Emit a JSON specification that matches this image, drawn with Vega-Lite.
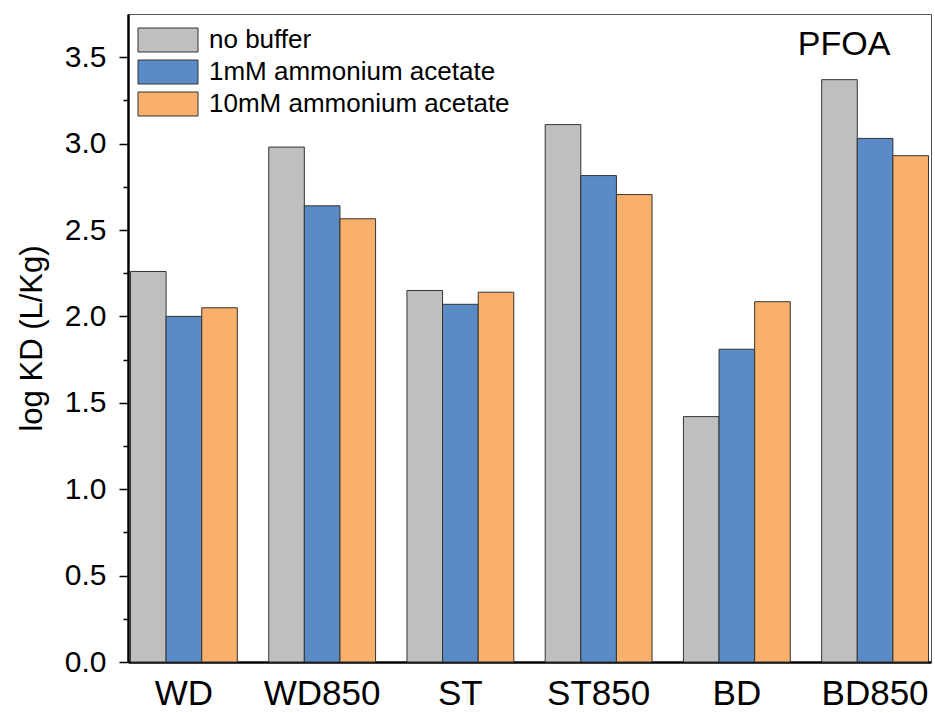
{
  "$schema": "https://vega.github.io/schema/vega-lite/v6.json",
  "width": 803,
  "height": 648,
  "autosize": {"type": "none"},
  "padding": {"left": 128, "top": 14, "right": 4, "bottom": 51},
  "background": "white",
  "config": {
    "font": "Liberation Sans",
    "view": {"stroke": "#555555", "strokeWidth": 1}
  },
  "layer": [
    {
      "data": {
        "values": [
          {"sample": "WD", "buffer": "no buffer", "logKD": 2.26},
          {"sample": "WD", "buffer": "1mM ammonium acetate", "logKD": 2.00},
          {"sample": "WD", "buffer": "10mM ammonium acetate", "logKD": 2.05},
          {"sample": "WD850", "buffer": "no buffer", "logKD": 2.98},
          {"sample": "WD850", "buffer": "1mM ammonium acetate", "logKD": 2.64},
          {"sample": "WD850", "buffer": "10mM ammonium acetate", "logKD": 2.565},
          {"sample": "ST", "buffer": "no buffer", "logKD": 2.15},
          {"sample": "ST", "buffer": "1mM ammonium acetate", "logKD": 2.07},
          {"sample": "ST", "buffer": "10mM ammonium acetate", "logKD": 2.14},
          {"sample": "ST850", "buffer": "no buffer", "logKD": 3.11},
          {"sample": "ST850", "buffer": "1mM ammonium acetate", "logKD": 2.815},
          {"sample": "ST850", "buffer": "10mM ammonium acetate", "logKD": 2.705},
          {"sample": "BD", "buffer": "no buffer", "logKD": 1.42},
          {"sample": "BD", "buffer": "1mM ammonium acetate", "logKD": 1.81},
          {"sample": "BD", "buffer": "10mM ammonium acetate", "logKD": 2.085},
          {"sample": "BD850", "buffer": "no buffer", "logKD": 3.37},
          {"sample": "BD850", "buffer": "1mM ammonium acetate", "logKD": 3.03},
          {"sample": "BD850", "buffer": "10mM ammonium acetate", "logKD": 2.93}
        ]
      },
      "mark": {"type": "bar", "stroke": "#333333", "strokeWidth": 1},
      "encoding": {
        "x": {
          "field": "sample",
          "type": "nominal",
          "sort": ["WD", "WD850", "ST", "ST850", "BD", "BD850"],
          "scale": {"paddingInner": 0.227, "paddingOuter": 0.018},
          "axis": {
            "title": null,
            "labelAngle": 0,
            "labelFontSize": 35,
            "labelColor": "black",
            "labelPadding": 14,
            "ticks": false,
            "domainColor": "black",
            "domainWidth": 2.5
          }
        },
        "xOffset": {
          "field": "buffer",
          "type": "nominal",
          "sort": ["no buffer", "1mM ammonium acetate", "10mM ammonium acetate"],
          "scale": {"paddingInner": 0, "paddingOuter": 0}
        },
        "y": {
          "field": "logKD",
          "type": "quantitative",
          "scale": {"domain": [0, 3.75], "nice": false, "zero": true},
          "axis": {
            "orient": "left",
            "title": "log KD (L/Kg)",
            "titleFontSize": 31,
            "titleFontWeight": "normal",
            "titleColor": "black",
            "titlePadding": 16,
            "values": [0, 0.5, 1, 1.5, 2, 2.5, 3, 3.5],
            "format": ".1f",
            "labelFontSize": 30,
            "labelColor": "black",
            "labelPadding": 13,
            "tickSize": 9,
            "tickWidth": 1.5,
            "tickColor": "black",
            "domainColor": "black",
            "domainWidth": 2.5,
            "grid": false
          }
        },
        "fill": {
          "field": "buffer",
          "type": "nominal",
          "sort": ["no buffer", "1mM ammonium acetate", "10mM ammonium acetate"],
          "scale": {"range": ["#bfbfbf", "#5a8bc6", "#f8b06a"]},
          "legend": {
            "title": null,
            "orient": "none",
            "legendX": 9,
            "legendY": 13,
            "symbolType": "M-1,-1H4V1H-1Z",
            "symbolSize": 576,
            "symbolStrokeColor": "#333333",
            "symbolStrokeWidth": 1,
            "symbolOpacity": 1,
            "labelFontSize": 26,
            "labelColor": "black",
            "labelOffset": 46,
            "rowPadding": 4,
            "labelLimit": 500
          }
        }
      }
    },
    {
      "data": {"values": [{"tick": "minor"}]},
      "mark": {"type": "rule", "opacity": 0},
      "encoding": {
        "y": {
          "datum": 0,
          "type": "quantitative",
          "axis": {
            "orient": "left",
            "title": null,
            "values": [0.25, 0.75, 1.25, 1.75, 2.25, 2.75, 3.25],
            "labels": false,
            "domain": false,
            "tickSize": 5,
            "tickWidth": 1.5,
            "tickColor": "black",
            "grid": false
          }
        }
      }
    },
    {
      "data": {"values": [{"label": "PFOA"}]},
      "mark": {"type": "text", "fontSize": 34, "dx": -31, "baseline": "alphabetic", "align": "center", "color": "black"},
      "encoding": {
        "x": {"datum": "BD850", "type": "nominal"},
        "y": {"datum": 3.51, "type": "quantitative", "axis": null},
        "text": {"field": "label"}
      }
    }
  ],
  "resolve": {"axis": {"y": "independent"}}
}
